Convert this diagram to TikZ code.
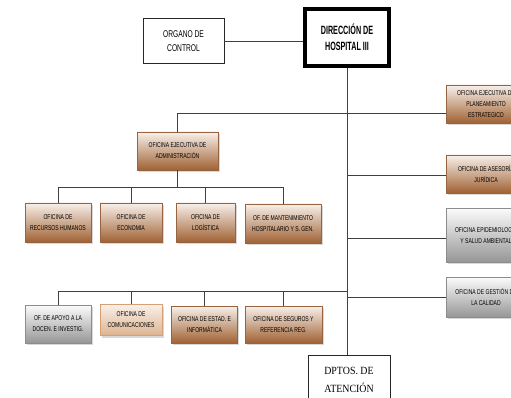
\documentclass[tikz,border=0pt]{standalone}
\usepackage{fontspec}
\newfontfamily\narrowfont[FakeStretch=0.72]{Liberation Sans}
\newfontfamily\orgfont[FakeStretch=0.68]{Liberation Sans}
\newfontfamily\dirfont[FakeStretch=0.6]{Liberation Sans}
\newfontfamily\dptfont[FakeStretch=0.9]{Liberation Serif}
\usetikzlibrary{shadows}
\definecolor{brownT}{RGB}{248,240,234}
\definecolor{brownB}{RGB}{160,98,52}
\definecolor{brownD}{RGB}{150,100,65}
\definecolor{brownL}{RGB}{214,160,115}
\definecolor{grayT}{RGB}{252,252,252}
\definecolor{grayB}{RGB}{150,150,150}
\tikzset{
  conn/.style={draw=black!75, line width=0.8pt},
  obox/.style={draw=brownD, line width=0.6pt, top color=brownT, bottom color=brownB,
    drop shadow={shadow xshift=1.5pt, shadow yshift=-2pt, fill=black!30},
    align=center, inner sep=1pt, font=\narrowfont\fontsize{7}{11}\selectfont},
  lbox/.style={obox, draw=brownL, bottom color=brownL!80},
  gbox/.style={obox, draw=black!45, top color=grayT, bottom color=grayB},
  plainbox/.style={draw=black!85, line width=0.8pt, fill=white, align=center, inner sep=1pt}
}
\begin{document}
\begin{tikzpicture}[x=1pt,y=-1pt]
\useasboundingbox (0,0) rectangle (511,398);
\clip (0,0) rectangle (511,398);
\fill[white] (0,0) rectangle (511,398);

% top
\node[plainbox, minimum width=81pt, minimum height=45pt,
  font=\orgfont\fontsize{9.8}{14}\selectfont] (organo) at (183.5,41) {ORGANO DE\\CONTROL};
\node[plainbox, draw=black, line width=4pt, minimum width=84pt, minimum height=57pt,
  font=\dirfont\bfseries\fontsize{12}{16}\selectfont] (dir) at (347,37.5) {DIRECCIÓN DE\\HOSPITAL III};
\node[plainbox, minimum width=82pt, minimum height=50pt,
  font=\dptfont\fontsize{11}{18}\selectfont] (dptos) at (349,380) {DPTOS. DE\\ATENCIÓN};

% administration branch
\node[obox, minimum width=81pt, minimum height=38pt] (admin) at (177.5,151) {OFICINA EJECUTIVA DE\\ADMINISTRACIÓN};
\node[obox, minimum width=66pt, minimum height=39pt] (b1) at (58,222.5) {OFICINA DE\\RECURSOS HUMANOS};
\node[obox, minimum width=62pt, minimum height=39pt] (b2) at (131,222.5) {OFICINA DE\\ECONOMIA};
\node[obox, minimum width=59pt, minimum height=39pt] (b3) at (205.5,222.5) {OFICINA DE\\LOGÍSTICA};
\node[obox, minimum width=76pt, minimum height=39pt] (b4) at (283,223.5) {OF. DE MANTENIMIENTO\\HOSPITALARIO Y S. GEN.};

% second row
\node[gbox, minimum width=66pt, minimum height=38pt] (c1) at (58,324) {OF. DE APOYO A LA\\DOCEN. E INVESTIG.};
\node[lbox, minimum width=62pt, minimum height=31pt] (c2) at (131,320) {OFICINA DE\\COMUNICACIONES};
\node[obox, minimum width=66pt, minimum height=37pt] (c3) at (204.5,324.5) {OFICINA DE ESTAD. E\\INFORMÁTICA};
\node[obox, minimum width=77pt, minimum height=37pt] (c4) at (283.5,324.5) {OFICINA DE SEGUROS Y\\REFERENCIA REG.};

% right column
\node[obox, minimum width=80pt, minimum height=38pt] (r1) at (486,104) {OFICINA EJECUTIVA DE\\PLANEAMIENTO\\ESTRATEGICO};
\node[obox, minimum width=80pt, minimum height=38pt] (r2) at (486,174) {OFICINA DE ASESORÍA\\JURÍDICA};
\node[gbox, minimum width=80pt, minimum height=54pt] (r3) at (486,235) {OFICINA EPIDEMIOLOGÍA\\Y SALUD AMBIENTAL};
\node[gbox, minimum width=80pt, minimum height=40pt] (r4) at (486,297) {OFICINA DE GESTIÓN DE\\LA CALIDAD};

% junctions on the trunk
\coordinate (j1) at (347,113);
\coordinate (j2) at (347,175);
\coordinate (j3) at (347,238);
\coordinate (j4) at (347,297);
\coordinate (j5) at (347,291);
\coordinate (ab) at (177.5,187);

% connectors
\draw[conn] (organo.east) -- (organo.east -| dir.west);
\draw[conn] (dir.south) -- (dir.south |- dptos.north);
\draw[conn] (admin.north) |- (j1 -| r1.west);
\draw[conn] (j2) -- (j2 -| r2.west);
\draw[conn] (j3) -- (j3 -| r3.west);
\draw[conn] (j4) -- (j4 -| r4.west);
\draw[conn] (admin.south) -- (ab);
\draw[conn] (ab -| b1.north) -- (ab -| b4.north);
\foreach \n in {b1,b2,b3,b4} \draw[conn] (\n.north) -- (\n.north |- ab);
\draw[conn] (j5) -- (j5 -| c1.north);
\foreach \n in {c1,c2,c3,c4} \draw[conn] (\n.north) -- (\n.north |- j5);
\end{tikzpicture}
\end{document}
